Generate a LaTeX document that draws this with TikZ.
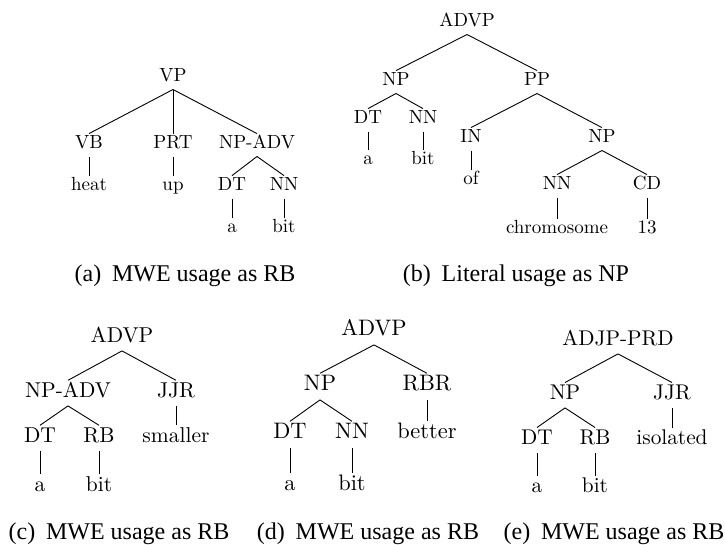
\documentclass[tikz,border=0pt]{standalone}
\usepackage{fontspec}
\newfontfamily\capfont{Liberation Serif}
\newfontfamily\treefont{lmroman10-regular}[Extension=.otf]
\begin{document}
\begin{tikzpicture}[x=1pt,y=-1pt,
  ta/.style={font=\treefont\fontsize{19}{23}\selectfont, inner sep=1pt, text height=13.7pt, text depth=6.8pt, anchor=base},
  tc/.style={font=\treefont\fontsize{21.5}{26}\selectfont, inner sep=1pt, text height=15.5pt, text depth=7.7pt, anchor=base},
  td/.style={font=\treefont\fontsize{22.4}{27}\selectfont, inner sep=1pt, text height=16.1pt, text depth=8.1pt, anchor=base},
  te/.style={font=\treefont\fontsize{21.3}{26}\selectfont, inner sep=1pt, text height=15.3pt, text depth=7.7pt, anchor=base},
  captext/.style={font=\capfont\fontsize{24}{28}\selectfont, inner sep=0pt, anchor=base},
  treeline/.style={draw, line width=0.9pt}]
\useasboundingbox (0,0) rectangle (725,544);
% ---- tree (a)
\node[ta] (aVP) at (173,81.5) {VP};
\node[ta] (aVB) at (89,148.5) {VB};
\node[ta] (aPRT) at (173,148.5) {PRT};
\node[ta] (aNPADV) at (257,148.5) {NP-ADV};
\node[ta] (aheat) at (89,190.5) {heat};
\node[ta] (aup) at (173,190.5) {up};
\node[ta] (aDT) at (232,190.5) {DT};
\node[ta] (aNN) at (284,190.5) {NN};
\node[ta] (aa) at (232,232.5) {a};
\node[ta] (abit) at (284,232.5) {bit};
\draw[treeline] (aVP.south) -- (aVB.north);
\draw[treeline] (aVP.south) -- (aPRT.north);
\draw[treeline] (aVP.south) -- (aNPADV.north);
\draw[treeline] (aVB.south) -- (aheat.north);
\draw[treeline] (aPRT.south) -- (aup.north);
\draw[treeline] (aNPADV.south) -- (aDT.north);
\draw[treeline] (aNPADV.south) -- (aNN.north);
\draw[treeline] (aDT.south) -- (aa.north);
\draw[treeline] (aNN.south) -- (abit.north);
\node[captext] (capa) at (185,281) {(a)\hspace{0.45em}MWE usage as RB};
% ---- tree (b)
\node[ta] (bADVP) at (467,26.5) {ADVP};
\node[ta] (bNP) at (396,85.5) {NP};
\node[ta] (bPP) at (537,85.5) {PP};
\node[ta] (bDT) at (368,123.5) {DT};
\node[ta] (bNN) at (423,123.5) {NN};
\node[ta] (bIN) at (471,142.5) {IN};
\node[ta] (bNPb) at (602,142.5) {NP};
\node[ta] (ba) at (368,164.5) {a};
\node[ta] (bbit) at (423,164.5) {bit};
\node[ta] (bof) at (471,184.5) {of};
\node[ta] (bNNb) at (557,189.5) {NN};
\node[ta] (bCD) at (647,189.5) {CD};
\node[ta] (bchrom) at (557,233.5) {chromosome};
\node[ta] (bthirteen) at (647,233.5) {13};
\draw[treeline] (bADVP.south) -- (bNP.north);
\draw[treeline] (bADVP.south) -- (bPP.north);
\draw[treeline] (bNP.south) -- (bDT.north);
\draw[treeline] (bNP.south) -- (bNN.north);
\draw[treeline] (bDT.south) -- (ba.north);
\draw[treeline] (bNN.south) -- (bbit.north);
\draw[treeline] (bPP.south) -- (bIN.north);
\draw[treeline] (bPP.south) -- (bNPb.north);
\draw[treeline] (bIN.south) -- (bof.north);
\draw[treeline] (bNPb.south) -- (bNNb.north);
\draw[treeline] (bNPb.south) -- (bCD.north);
\draw[treeline] (bNNb.south) -- (bchrom.north);
\draw[treeline] (bCD.south) -- (bthirteen.north);
\node[captext] (capb) at (516,281) {(b)\hspace{0.45em}Literal usage as NP};
% ---- tree (c)
\node[tc] (cADVP) at (122,342) {ADVP};
\node[tc] (cNPADV) at (68,397) {NP-ADV};
\node[tc] (cJJR) at (176,397) {JJR};
\node[tc] (cDT) at (40,442) {DT};
\node[tc] (cRB) at (99,442) {RB};
\node[tc] (csmaller) at (176,442) {smaller};
\node[tc] (ca) at (40,491) {a};
\node[tc] (cbit) at (99,491) {bit};
\draw[treeline] (cADVP.south) -- (cNPADV.north);
\draw[treeline] (cADVP.south) -- (cJJR.north);
\draw[treeline] (cNPADV.south) -- (cDT.north);
\draw[treeline] (cNPADV.south) -- (cRB.north);
\draw[treeline] (cJJR.south) -- (csmaller.north);
\draw[treeline] (cDT.south) -- (ca.north);
\draw[treeline] (cRB.south) -- (cbit.north);
\node[captext] (capc) at (119,539) {(c)\hspace{0.45em}MWE usage as RB};
% ---- tree (d)
\node[td] (dADVP) at (374,335.6) {ADVP};
\node[td] (dNP) at (320,390.6) {NP};
\node[td] (dRBR) at (427,390.6) {RBR};
\node[td] (dDT) at (290,438.6) {DT};
\node[td] (dNN) at (352,438.6) {NN};
\node[td] (dbetter) at (427,438.6) {better};
\node[td] (da) at (290,490.6) {a};
\node[td] (dbit) at (352,490.6) {bit};
\draw[treeline] (dADVP.south) -- (dNP.north);
\draw[treeline] (dADVP.south) -- (dRBR.north);
\draw[treeline] (dNP.south) -- (dDT.north);
\draw[treeline] (dNP.south) -- (dNN.north);
\draw[treeline] (dRBR.south) -- (dbetter.north);
\draw[treeline] (dDT.south) -- (da.north);
\draw[treeline] (dNN.south) -- (dbit.north);
\node[captext] (capd) at (368,539) {(d)\hspace{0.45em}MWE usage as RB};
% ---- tree (e)
\node[te] (eADJP) at (618,345) {ADJP-PRD};
\node[te] (eNP) at (565,399) {NP};
\node[te] (eJJR) at (672,399) {JJR};
\node[te] (eDT) at (537,444) {DT};
\node[te] (eRB) at (595,444) {RB};
\node[te] (eisol) at (672,444) {isolated};
\node[te] (ea) at (537,492) {a};
\node[te] (ebit) at (595,492) {bit};
\draw[treeline] (eADJP.south) -- (eNP.north);
\draw[treeline] (eADJP.south) -- (eJJR.north);
\draw[treeline] (eNP.south) -- (eDT.north);
\draw[treeline] (eNP.south) -- (eRB.north);
\draw[treeline] (eJJR.south) -- (eisol.north);
\draw[treeline] (eDT.south) -- (ea.north);
\draw[treeline] (eRB.south) -- (ebit.north);
\node[captext] (cape) at (614,539) {(e)\hspace{0.45em}MWE usage as RB};
\end{tikzpicture}
\end{document}
